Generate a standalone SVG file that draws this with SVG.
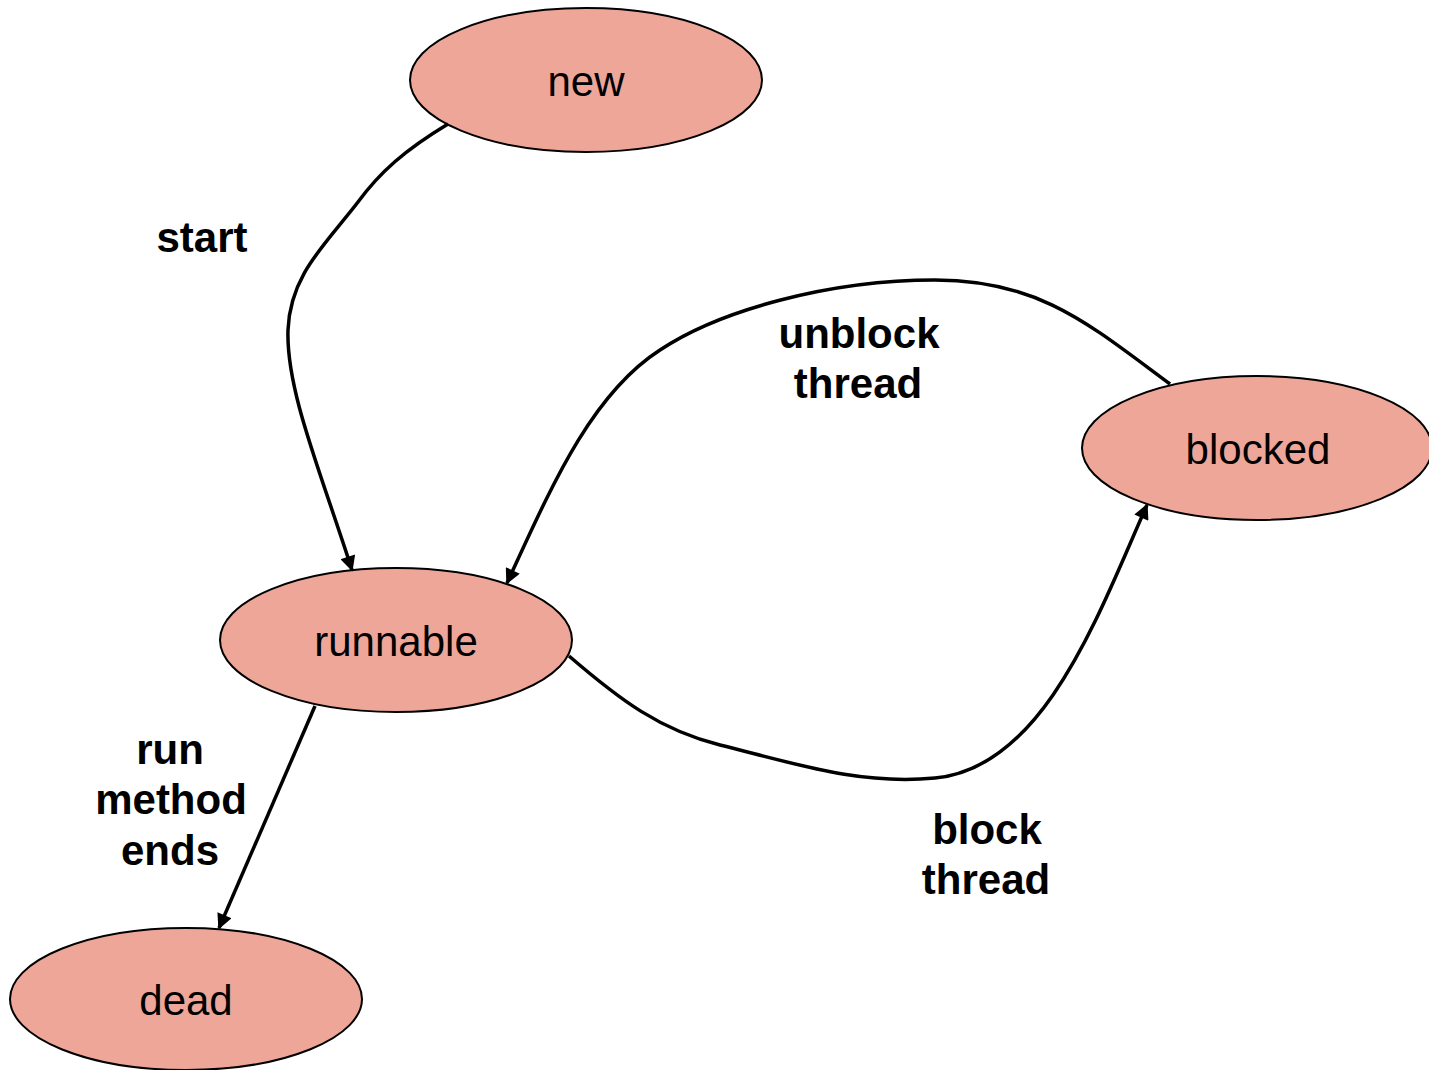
<svg xmlns="http://www.w3.org/2000/svg" width="1429" height="1070" viewBox="0 0 1429 1070">
  <style>
    .state ellipse { fill: #EEA699; stroke: #000; stroke-width: 2; }
    .state text { font-family: "Liberation Sans", Arial, sans-serif; font-size: 42px; text-anchor: middle; fill: #000; }
    .edge { fill: none; stroke: #000; stroke-width: 3.5; marker-end: url(#arrow); }
    .label { font-family: "Liberation Sans", Arial, sans-serif; font-size: 42px; font-weight: bold; text-anchor: middle; fill: #000; }
  </style>
  <defs>
    <marker id="arrow" viewBox="0 0 10 10" refX="9" refY="5" markerWidth="5" markerHeight="4.4" orient="auto" markerUnits="strokeWidth">
      <path d="M0,0 L10,5 L0,10 Z" fill="#000"/>
    </marker>
  </defs>
  <rect width="1429" height="1070" fill="#fff"/>

  <g id="new" class="state">
    <ellipse cx="586" cy="80" rx="176" ry="72"/>
    <text x="586" y="96">new</text>
  </g>
  <g id="blocked" class="state">
    <ellipse cx="1257" cy="448" rx="175" ry="72"/>
    <text x="1258" y="464">blocked</text>
  </g>
  <g id="runnable" class="state">
    <ellipse cx="396" cy="640" rx="176" ry="72"/>
    <text x="396" y="656">runnable</text>
  </g>
  <g id="dead" class="state">
    <ellipse cx="186" cy="999" rx="176" ry="71"/>
    <text x="186" y="1015">dead</text>
  </g>

  <g id="connectors">
    <path class="edge" d="M448,124 C405,150 380,172 358,202 C325,245 290,275 288,330 C286,390 320,470 352,570"/>
    <path class="edge" d="M1170,384 C1090,325 1040,280 935,280 C830,280 720,310 660,350 C590,395 550,490 507,583"/>
    <path class="edge" d="M569,656 C620,700 660,730 720,745 C800,765 860,785 935,778 C1045,768 1100,610 1147,505"/>
    <path class="edge" d="M315,706 L219,928"/>
  </g>

  <g id="labels">
    <text class="label" x="202" y="252">start</text>
    <text class="label" x="859" y="348">unblock</text>
    <text class="label" x="858" y="398">thread</text>
    <text class="label" x="170" y="764">run</text>
    <text class="label" x="171" y="814">method</text>
    <text class="label" x="170" y="865">ends</text>
    <text class="label" x="987" y="844">block</text>
    <text class="label" x="986" y="894">thread</text>
  </g>
</svg>
